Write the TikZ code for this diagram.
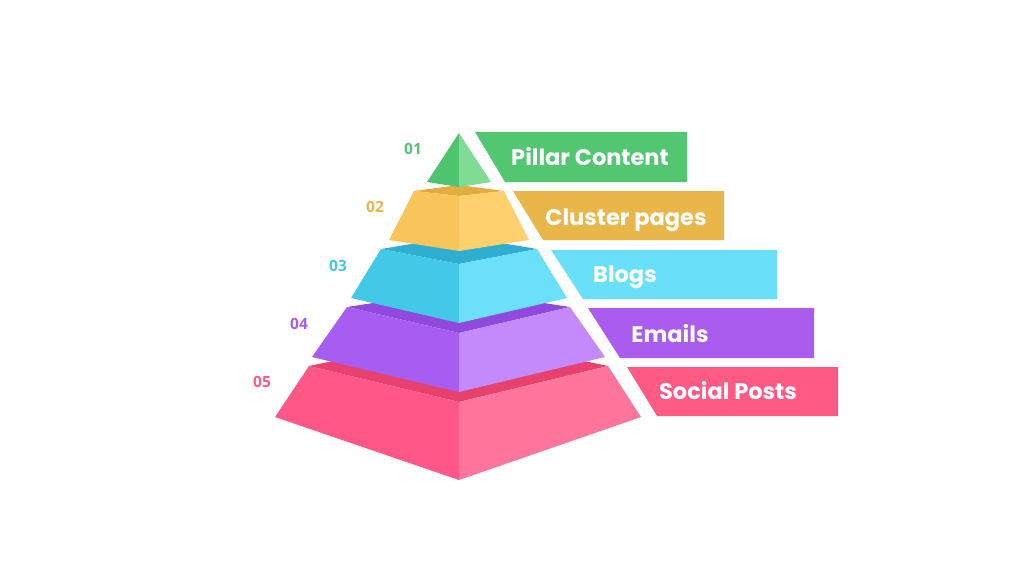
\documentclass[tikz,border=0pt]{standalone}
\usepackage{fontspec}
\setmainfont{Poppins}
\newfontfamily\numfont{Open Sans}
\usepackage{tikz}

\definecolor{grnL}{HTML}{4DC46D}
\definecolor{grnR}{HTML}{7EDC95}
\definecolor{grnB}{HTML}{52C670}
\definecolor{ylwT}{HTML}{E2AC3F}
\definecolor{ylwL}{HTML}{F7C55A}
\definecolor{ylwR}{HTML}{FFD06E}
\definecolor{ylwB}{HTML}{E9B64A}
\definecolor{cynT}{HTML}{2FAED2}
\definecolor{cynL}{HTML}{43C8E8}
\definecolor{cynR}{HTML}{6CDFFA}
\definecolor{cynB}{HTML}{6ADFF9}
\definecolor{prpT}{HTML}{9148DD}
\definecolor{prpL}{HTML}{A75DF0}
\definecolor{prpR}{HTML}{C48AFB}
\definecolor{prpB}{HTML}{A95CEE}
\definecolor{pnkT}{HTML}{E8416E}
\definecolor{pnkL}{HTML}{FF5787}
\definecolor{pnkR}{HTML}{FF759B}
\definecolor{pnkB}{HTML}{FF5A86}

\begin{document}
\begin{tikzpicture}[x=1pt,y=-1pt]
            \useasboundingbox[fill=white] (0,0) rectangle (1024,588);

            % tiers, bottom first
            \fill[pnkT] (309,366) -- (459,335) -- (608,366) -- (459,402) -- cycle;
            \fill[pnkL] (309,366) -- (459,402) -- (459,480) -- (275,417) -- cycle;
            \fill[pnkR] (459,402) -- (608,366) -- (641,417) -- (459,480) -- cycle;

            \fill[prpT] (347,307) -- (459,290) -- (570,307) -- (459,333) -- cycle;
            \fill[prpL] (347,307) -- (459,333) -- (459,392) -- (312,357) -- cycle;
            \fill[prpR] (459,333) -- (570,307) -- (605,357) -- (459,392) -- cycle;

            \fill[cynT] (381,249) -- (459,236) -- (537,249) -- (459,264) -- cycle;
            \fill[cynL] (381,249) -- (459,264) -- (459,323) -- (351,298) -- cycle;
            \fill[cynR] (459,264) -- (537,249) -- (567,298) -- (459,323) -- cycle;

            \fill[ylwT] (414,191) -- (459,185) -- (504,191) -- (459,196) -- cycle;
            \fill[ylwL] (414,191) -- (459,196) -- (459,251) -- (389,240) -- cycle;
            \fill[ylwR] (459,196) -- (504,191) -- (529,240) -- (459,251) -- cycle;

            \fill[grnL] (459,133) -- (459,187) -- (427,182) -- cycle;
            \fill[grnR] (459,133) -- (491,182) -- (459,187) -- cycle;

            % label bars
            \fill[grnB] (475,132) -- (687,132) -- (687,182) -- (505,182) -- cycle;
            \fill[ylwB] (513,191) -- (724,191) -- (724,240) -- (543,240) -- cycle;
            \fill[cynB] (551,250) -- (777,250) -- (777,299) -- (583,299) -- cycle;
            \fill[prpB] (588,308) -- (814,308) -- (814,358) -- (620,358) -- cycle;
            \fill[pnkB] (627,367) -- (838,367) -- (838,416) -- (657,416) -- cycle;

            \begin{scope}[every node/.style={text=white,anchor=base,inner sep=0pt,
                          font=\bfseries\fontsize{22.5}{26}\selectfont}]
                \node (pillar) at (590,166) {Pillar Content};
                \node (cluster) at (626,225) {Cluster pages};
                \node (blogs) at (625,282) {Blogs};
                \node (emails) at (670,342) {Emails};
                \node (social) at (728,399) {Social Posts};
            \end{scope}

            \begin{scope}[every node/.style={inner sep=0pt,
                          font=\numfont\bfseries\fontsize{15.5}{18}\selectfont}]
                \node[text=grnB] (n1) at (413,149) {01};
                \node[text=ylwB] (n2) at (375,207) {02};
                \node[text=cynL] (n3) at (338,266) {03};
                \node[text=prpL] (n4) at (299,324) {04};
                \node[text=pnkB] (n5) at (262,382) {05};
            \end{scope}
            \end{tikzpicture}
\end{document}
